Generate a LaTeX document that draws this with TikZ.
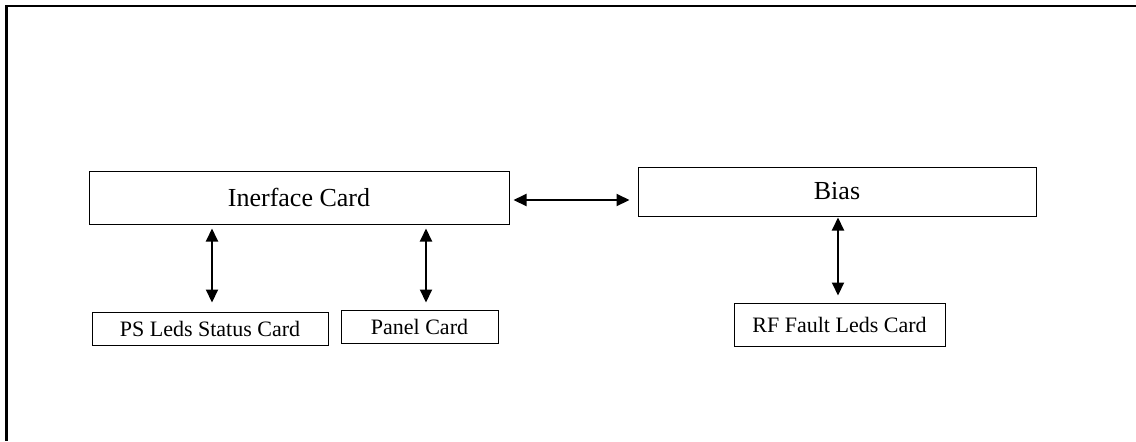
\documentclass[tikz,border=0pt]{standalone}
\usepackage{fontspec}
\setmainfont{Liberation Serif}
\usetikzlibrary{arrows.meta}
\begin{document}
\begin{tikzpicture}[x=0.5pt,y=-0.5pt,
  card/.style={draw, line width=0.5pt, inner sep=0pt, rectangle},
  bigcard/.style={card, font=\fontsize{13}{15}\selectfont},
  smallcard/.style={card, font=\fontsize{11}{13}\selectfont},
  biarrow/.style={line width=1pt, {Triangle[length=6.5pt,width=6pt]}-{Triangle[length=6.5pt,width=6pt]}}
]
\useasboundingbox (0,0) rectangle (1136,441);
\draw[line width=1.4pt] (1136,6) -- (6.5,6) -- (6.5,441);
\node[bigcard, minimum width=210pt, minimum height=26.5pt] (ifc) at (299,197.5) {Inerface Card};
\node[bigcard, minimum width=199pt, minimum height=24.5pt] (bias) at (837,191.5) {Bias};
\node[smallcard, minimum width=118pt, minimum height=16.5pt] (ps) at (210,328.5) {PS Leds Status Card};
\node[smallcard, minimum width=78.5pt, minimum height=16.5pt] (panel) at (419.5,326.5) {Panel Card};
\node[smallcard, minimum width=105.5pt, minimum height=21.5pt] (rf) at (839.5,324.5) {RF Fault Leds Card};
\coordinate (xa) at (212,0);
\coordinate (xb) at (426,0);
\coordinate (xc) at (838,0);
\coordinate (yh) at (0,200);
\draw[biarrow, shorten <=2pt, shorten >=4.5pt] (ifc.south -| xa) -- (ps.north -| xa);
\draw[biarrow, shorten <=2pt, shorten >=3.5pt] (ifc.south -| xb) -- (panel.north -| xb);
\draw[biarrow, shorten <=2pt, shorten >=4pt] (ifc.east |- yh) -- (bias.west |- yh);
\draw[biarrow, shorten <=0.5pt, shorten >=3.5pt] (bias.south -| xc) -- (rf.north -| xc);
\end{tikzpicture}
\end{document}
